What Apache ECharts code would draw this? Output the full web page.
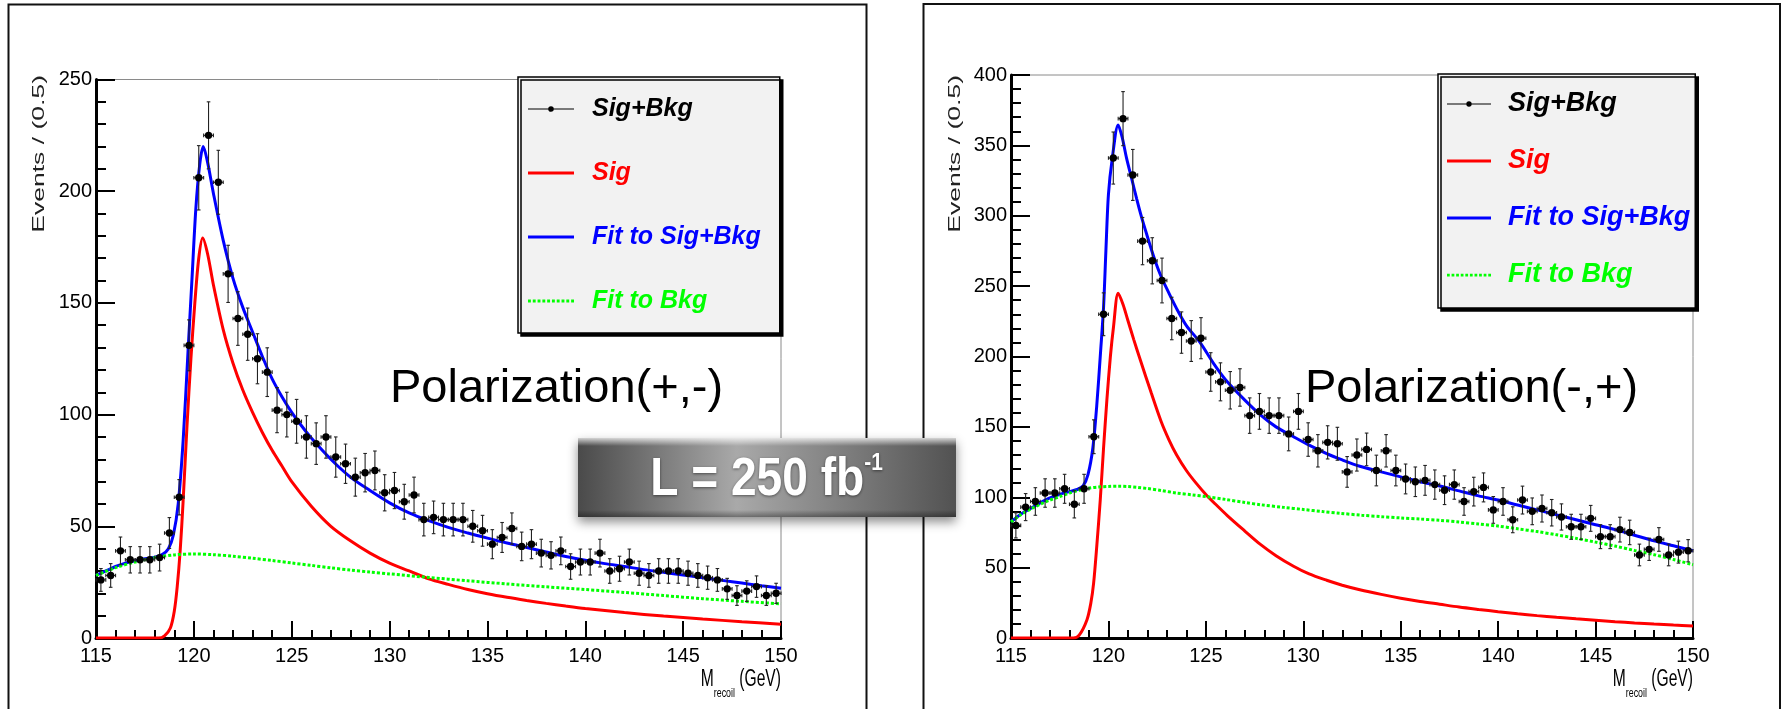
<!DOCTYPE html>
<html>
<head>
<meta charset="utf-8">
<script src="https://cdn.jsdelivr.net/npm/echarts@6/dist/echarts.min.js"></script>
<style>
html,body{margin:0;padding:0;background:#fff;}
#chart{width:1783px;height:709px;}
</style>
</head>
<body>
<div id="chart"></div>
<script>
// ---------------- DATA ----------------
const xRange = [115, 150];
const xTickStep = 5;
const yTickStep = 50;
const yMaxPM = 250;
const yMaxMP = 400;
const binHalfWidth = 0.25;

const binCenters = [115.25,115.75,116.25,116.75,117.25,117.75,118.25,118.75,119.25,119.75,
  120.25,120.75,121.25,121.75,122.25,122.75,123.25,123.75,124.25,124.75,
  125.25,125.75,126.25,126.75,127.25,127.75,128.25,128.75,129.25,129.75,
  130.25,130.75,131.25,131.75,132.25,132.75,133.25,133.75,134.25,134.75,
  135.25,135.75,136.25,136.75,137.25,137.75,138.25,138.75,139.25,139.75,
  140.25,140.75,141.25,141.75,142.25,142.75,143.25,143.75,144.25,144.75,
  145.25,145.75,146.25,146.75,147.25,147.75,148.25,148.75,149.25,149.75];

// Polarization(+,-) : Sig+Bkg events per bin and their error bars
const sigBkgPM = [26,28,39,35,35,35,36,47,63,131, 206,225,204,163,143,136,125,119,102,100,
  97,90,87,90,81,78,72,74,75,65, 66,61,64,53,54,53,53,53,50,48,
  42,45,49,41,42,38,37,39,32,34, 34,38,30,31,34,29,28,30,30,30,
  29,28,27,26,22,19,21,23,19,20];
const errPM = [5.1,5.3,6.2,5.9,5.9,5.9,6.0,6.9,7.9,11.4, 14.4,15.0,14.3,12.8,12.0,11.7,11.2,10.9,10.1,10.0,
  9.8,9.5,9.3,9.5,9.0,8.8,8.5,8.6,8.7,8.1, 8.1,7.8,8.0,7.3,7.3,7.3,7.3,7.3,7.1,6.9,
  6.5,6.7,7.0,6.4,6.5,6.2,6.1,6.2,5.7,5.8, 5.8,6.2,5.5,5.6,5.8,5.4,5.3,5.5,5.5,5.5,
  5.4,5.3,5.2,5.1,4.7,4.4,4.6,4.8,4.4,4.5];

// Polarization(-,+)
const sigBkgMP = [80,93,97,103,103,106,95,106,143,230, 341,369,329,282,268,254,227,217,211,213,
  189,182,176,178,158,161,158,158,145,161, 141,133,139,138,118,130,134,119,133,119,
  113,111,112,109,105,109,97,104,107,91, 97,84,98,90,92,89,86,79,79,85,
  72,72,77,75,59,63,70,59,61,62];
const errMP = [8.9,9.6,9.8,10.1,10.1,10.3,9.7,10.3,12.0,15.2, 18.5,19.2,18.1,16.8,16.4,15.9,15.1,14.7,14.5,14.6,
  13.7,13.5,13.3,13.3,12.6,12.7,12.6,12.6,12.0,12.7, 11.9,11.5,11.8,11.7,10.9,11.4,11.6,10.9,11.5,10.9,
  10.6,10.5,10.6,10.4,10.2,10.4,9.8,10.2,10.3,9.5, 9.8,9.2,9.9,9.5,9.6,9.4,9.3,8.9,8.9,9.2,
  8.5,8.5,8.8,8.7,7.7,7.9,8.4,7.7,7.8,7.9];

// Fitted curves, Polarization(+,-)
const fitPM_x = [115,115.5,116,116.5,117,117.5,118,118.4,118.7,118.95,119.2,119.45,119.7,119.9,120.1,120.3,120.48,120.7,121,121.5,122,122.5,123,123.5,124,124.5,125,125.5,126,127,128,129,130,131,132,133,134,135,136,137,138,139,140,141,142,143,144,145,146,147,148,149,150];
const fitPM_y = [28,30,32,33.5,34.6,35.5,36.2,37.5,40,46,60,88,128,160,192,212,220,213,199,178,161,148,137,126,116,108,101,95,89.5,80,72,66,60.5,56,52.5,49.5,47,44.7,42.5,40.5,38.5,36.5,34.8,33.3,32,30.6,29.4,28.2,27,25.8,24.6,23.4,22.3];
const bkgPM_x = [115,116,117,118,119,120,121,122,123,124,125,126,127,128,129,130,132,134,136,138,140,142,144,146,148,150];
const bkgPM_y = [28,31.5,34,36,37.2,37.6,37.3,36.6,35.7,34.7,33.6,32.5,31.4,30.4,29.5,28.7,27.1,25.6,24.2,22.9,21.7,20.4,19,17.6,16.4,15.3];
const sigPM_x = [115,118.2,118.5,118.8,119,119.15,119.3,119.45,119.65,119.85,120.05,120.25,120.45,120.7,121,121.5,122,122.5,123,123.5,124,124.5,125,126,127,128,129,130,131,132,133,134,135,136,137,138,139,140,142,144,146,148,150];
const sigPM_y = [0,0,1,4.5,12,23,39,61,95,125,150,170,179,172,158,138,123,111,101,92,84,77,70,59,50,43.5,38,33.5,30,26.5,24,21.7,19.8,18.2,16.8,15.5,14.3,13.2,11.4,9.8,8.5,7.3,6.2];

// Fitted curves, Polarization(-,+)
const fitMP_x = [115,115.5,116,116.5,117,117.5,118,118.4,118.7,118.95,119.2,119.4,119.6,119.75,119.87,120,120.2,120.5,120.7,120.93,121.2,121.45,121.7,121.96,122.3,122.64,123,123.5,124,124.7,125.4,126.1,127,127.8,128.6,129.5,130.3,131.2,132,132.9,134,135,136,137,138,139,140,141,142,143,144,145,146,147,148,149,150];
const fitMP_y = [82.5,88,92,96,99.5,102,104,105.5,108,116,135,165,204,235,275,315,341,364.5,356,341,326,312,299,287,272,259,248,234,222,210,195,182,169,158.5,150,143,137,131,126.5,122,118,114.5,111,108,104.5,101,98,94.5,91,87.5,84,80.5,77,73,69,65.5,62];
const bkgMP_x = [115,115.5,116,116.5,117,117.5,118,118.5,119,119.5,120,120.5,121,121.5,122,122.7,123.5,124.3,125.1,126,127,127.8,129,130,131,131.9,133,134,135,136,137,138,139,140,141,142,143,144,145,146,147,148,149,150];
const bkgMP_y = [82.5,87.5,91.5,95,98,100.5,103,105,106.5,107.3,107.7,107.8,107.6,107,106.2,104.8,103,101.7,100.3,98.5,96.3,94.7,92.8,91.3,89.8,88.6,87.2,86.2,85.3,84.5,83.6,82.4,81,79.5,77.6,75.6,73.3,70.8,68.1,65.3,62.2,59.2,55.8,52];
const sigMP_x = [115,118.2,118.5,118.9,119.1,119.24,119.4,119.58,119.75,119.92,120.1,120.26,120.5,120.75,121,121.3,121.65,122.2,122.7,123.1,123.5,124,124.5,125,125.5,126.1,127,127.8,128.6,129.5,130.3,131.2,132,132.9,134,135,136,137,138,139,140,141,142,143,144,145,146,147,148,149,150];
const sigMP_y = [0,0,2,13,25,39,65,98,135,169,200,221,245,237,225.6,212,197,174,154,141,130,119,110,102,95,87,76,66.5,58.5,51,45.5,41,37.5,34.3,31,28.3,26,24,22,20.3,18.7,17.2,15.9,14.7,13.6,12.6,11.6,10.7,9.9,9.2,8.6];

const polLabels = ['Polarization(+,-)', 'Polarization(-,+)'];
const seriesNames = ['Sig+Bkg', 'Sig', 'Fit to Sig+Bkg', 'Fit to Bkg'];
const yTitle = 'Events / (0.5)';
const lumiMain = 'L = 250 fb';
const lumiSup = '-1';

// ---------------- STYLE / LAYOUT ----------------
const SANS = '"Liberation Sans", Arial, Helvetica, sans-serif';
const RED = '#ff0000', BLUE = '#0000ff', GREEN = '#00ff00';

const panels = [
  { grid: {left: 96, top: 79.5, width: 685, height: 558.5}, yMax: yMaxPM,
    pts: sigBkgPM, err: errPM,
    fit: [fitPM_x, fitPM_y], bkg: [bkgPM_x, bkgPM_y], sig: [sigPM_x, sigPM_y],
    frame: {x: 8.5, y: 4.5, width: 858, height: 720},
    legend: {left: 518, top: 77, padding: [16, 19, 16, 10], itemGap: 32, itemWidth: 46, fontSize: 25, lineHeight: 32, textPad: 13},
    pol: {x: 390, y: 388.7}, eventsX: 39, eventsTop: 75 },
  { grid: {left: 1011, top: 75, width: 682, height: 563}, yMax: yMaxMP,
    pts: sigBkgMP, err: errMP,
    fit: [fitMP_x, fitMP_y], bkg: [bkgMP_x, bkgMP_y], sig: [sigMP_x, sigMP_y],
    frame: {x: 923.5, y: 4, width: 856.5, height: 720},
    legend: {left: 1438, top: 74, padding: [13, 5, 16, 9], itemGap: 23, itemWidth: 44, fontSize: 27, lineHeight: 34, textPad: 12},
    pol: {x: 1305, y: 388.7}, eventsX: 955, eventsTop: 75 }
];

function pairs(xs, ys) { return xs.map((x, i) => [x, ys[i]]); }

function renderErr(params, api) {
  const x = api.value(0), y = api.value(1), e = api.value(2);
  const c = api.coord([x, y]);
  const top = api.coord([x, y + e]);
  const bot = api.coord([x, Math.max(0, y - e)]);
  const l = api.coord([x - binHalfWidth, y]);
  const r = api.coord([x + binHalfWidth, y]);
  const cap = 1.8;
  const ls = {stroke: '#222', lineWidth: 1.1};
  return {
    type: 'group',
    children: [
      {type: 'line', shape: {x1: c[0], y1: top[1], x2: c[0], y2: bot[1]}, style: ls},
      {type: 'line', shape: {x1: c[0] - cap, y1: top[1], x2: c[0] + cap, y2: top[1]}, style: ls},
      {type: 'line', shape: {x1: c[0] - cap, y1: bot[1], x2: c[0] + cap, y2: bot[1]}, style: ls},
      {type: 'line', shape: {x1: l[0], y1: c[1], x2: r[0], y2: c[1]}, style: ls},
      {type: 'line', shape: {x1: l[0], y1: c[1] - cap, x2: l[0], y2: c[1] + cap}, style: ls},
      {type: 'line', shape: {x1: r[0], y1: c[1] - cap, x2: r[0], y2: c[1] + cap}, style: ls},
      {type: 'circle', shape: {cx: c[0], cy: c[1], r: 3.7}, style: {fill: '#000'}}
    ]
  };
}

// legend icons
const ICON_POINT = 'path://M0,6.4H46V7.6H0Z M23,4.2A2.8,2.8 0 1 1 22.99,4.2Z';
const ICON_LINE = 'path://M0,0H46V3H0Z';
let dots = '';
for (let i = 0; i < 10; i++) { dots += 'M' + (i * 5) + ',0h3v3h-3Z '; }
const ICON_DOTS = 'path://' + dots;

const grids = [], xAxes = [], yAxes = [], series = [], legends = [], graphics = [];

panels.forEach((p, k) => {
  grids.push(Object.assign({show: true, borderColor: '#8a8a8a', borderWidth: 1, backgroundColor: 'transparent'}, p.grid));
  xAxes.push({
    type: 'value', gridIndex: k, min: xRange[0], max: xRange[1], interval: xTickStep,
    axisLine: {show: true, onZero: false, lineStyle: {color: '#000', width: 3}},
    axisTick: {show: true, inside: true, length: 17, lineStyle: {color: '#000', width: 2}},
    minorTick: {show: true, splitNumber: 5, length: 8, lineStyle: {color: '#000', width: 2}},
    axisLabel: {color: '#000', fontFamily: SANS, fontSize: 20, margin: 8},
    splitLine: {show: false}
  });
  yAxes.push({
    type: 'value', gridIndex: k, min: 0, max: p.yMax, interval: yTickStep,
    axisLine: {show: true, onZero: false, lineStyle: {color: '#000', width: 3}},
    axisTick: {show: true, inside: true, length: 19, lineStyle: {color: '#000', width: 2}},
    minorTick: {show: true, splitNumber: 5, length: 10, lineStyle: {color: '#000', width: 2}},
    axisLabel: {color: '#000', fontFamily: SANS, fontSize: 20, margin: 4},
    splitLine: {show: false}
  });
  series.push({
    name: 'Fit to Sig+Bkg', type: 'line', xAxisIndex: k, yAxisIndex: k,
    data: pairs(p.fit[0], p.fit[1]), smooth: 0.3, symbol: 'none', z: 2,
    color: BLUE, lineStyle: {color: BLUE, width: 3}
  });
  series.push({
    name: 'Sig', type: 'line', xAxisIndex: k, yAxisIndex: k,
    data: pairs(p.sig[0], p.sig[1]), smooth: 0.3, symbol: 'none', z: 3,
    color: RED, lineStyle: {color: RED, width: 3}
  });
  series.push({
    name: 'Fit to Bkg', type: 'line', xAxisIndex: k, yAxisIndex: k,
    data: pairs(p.bkg[0], p.bkg[1]), smooth: 0.3, symbol: 'none', z: 4,
    color: GREEN, lineStyle: {color: GREEN, width: 3, type: [3, 2]}
  });
  series.push({
    name: 'Sig+Bkg', type: 'custom', xAxisIndex: k, yAxisIndex: k,
    data: binCenters.map((x, i) => [x, p.pts[i], p.err[i]]),
    encode: {x: 0, y: 1}, renderItem: renderErr, z: 5,
    itemStyle: {color: '#000'}
  });
  const L = p.legend;
  legends.push({
    orient: 'vertical', left: L.left, top: L.top, padding: L.padding, itemGap: L.itemGap,
    itemWidth: L.itemWidth, itemHeight: 14, selectedMode: false,
    backgroundColor: '#f2f2f2', borderColor: '#000', borderWidth: 1.5, borderRadius: 0,
    shadowColor: '#000', shadowOffsetX: 3, shadowOffsetY: 3, shadowBlur: 0,
    itemStyle: {borderWidth: 0},
    textStyle: {fontFamily: SANS, fontStyle: 'italic', fontWeight: 'bold', fontSize: L.fontSize,
                lineHeight: L.lineHeight, padding: [0, 0, 0, L.textPad]},
    data: [
      {name: seriesNames[0], icon: ICON_POINT, textStyle: {color: '#000'}},
      {name: seriesNames[1], icon: ICON_LINE, textStyle: {color: RED}},
      {name: seriesNames[2], icon: ICON_LINE, textStyle: {color: BLUE}},
      {name: seriesNames[3], icon: ICON_DOTS, textStyle: {color: GREEN}}
    ]
  });
  // panel frame
  graphics.push({type: 'rect', shape: p.frame, style: {fill: 'none', stroke: '#111', lineWidth: 2}, z: 0, silent: true});
  // Polarization label
  graphics.push({type: 'text', x: p.pol.x, y: p.pol.y, z: 10,
    style: {text: polLabels[k], fontSize: 47, fontFamily: SANS, fill: '#000', verticalAlign: 'middle', align: 'left'}});
  // y title
  graphics.push({type: 'text', x: p.eventsX, y: p.eventsTop, rotation: Math.PI / 2, scaleX: 1.56, z: 10,
    style: {text: yTitle, fontSize: 17, fontFamily: SANS, fill: '#222', align: 'right', verticalAlign: 'middle'}});
  // x title
  graphics.push({type: 'text', x: p.grid.left + p.grid.width, y: 668, scaleX: 0.68, z: 10,
    style: {text: '{m|M}{s|recoil}{m| (GeV)}', align: 'right', verticalAlign: 'top', fill: '#000',
      rich: {m: {fontSize: 23, fontFamily: SANS, lineHeight: 23, verticalAlign: 'top', fill: '#000'},
             s: {fontSize: 13, fontFamily: SANS, lineHeight: 32, verticalAlign: 'bottom', fill: '#000'}}}});
});

// Luminosity box
graphics.push({
  type: 'group', x: 578, y: 438, z: 20,
  children: [
    {type: 'rect', shape: {x: 0, y: 0, width: 378, height: 79},
     style: {fill: {type: 'linear', x: 0, y: 0, x2: 1, y2: 0, colorStops: [
        {offset: 0, color: '#4a4a4a'}, {offset: 0.42, color: '#a9a9a9'}, {offset: 1, color: '#525252'}]},
       shadowBlur: 10, shadowOffsetY: 5, shadowColor: 'rgba(0,0,0,0.45)'}},
    {type: 'rect', shape: {x: 0, y: 0, width: 378, height: 8},
     style: {fill: {type: 'linear', x: 0, y: 0, x2: 0, y2: 1, colorStops: [
        {offset: 0, color: 'rgba(255,255,255,0.75)'}, {offset: 1, color: 'rgba(255,255,255,0)'}]}}},
    {type: 'rect', shape: {x: 0, y: 72, width: 378, height: 7},
     style: {fill: {type: 'linear', x: 0, y: 0, x2: 0, y2: 1, colorStops: [
        {offset: 0, color: 'rgba(0,0,0,0)'}, {offset: 1, color: 'rgba(0,0,0,0.35)'}]}}},
    {type: 'text', x: 188.5, y: 13.3, scaleX: 0.87,
     style: {text: '{m|' + lumiMain + '}{s|' + lumiSup + '}', align: 'center', verticalAlign: 'top', fill: '#fff',
       textShadowColor: 'rgba(0,0,0,0.5)', textShadowBlur: 3, textShadowOffsetY: 1,
       rich: {m: {fontSize: 53, fontFamily: SANS, fontWeight: 'bold', lineHeight: 56, verticalAlign: 'bottom', fill: '#fff'},
              s: {fontSize: 24, fontFamily: SANS, fontWeight: 'bold', lineHeight: 21, verticalAlign: 'top', fill: '#fff'}}}}
  ]
});

const chart = echarts.init(document.getElementById('chart'), null, {renderer: 'canvas'});
chart.setOption({
  animation: false,
  backgroundColor: '#fff',
  grid: grids, xAxis: xAxes, yAxis: yAxes,
  legend: legends,
  series: series,
  graphic: graphics
});
</script>
</body>
</html>
